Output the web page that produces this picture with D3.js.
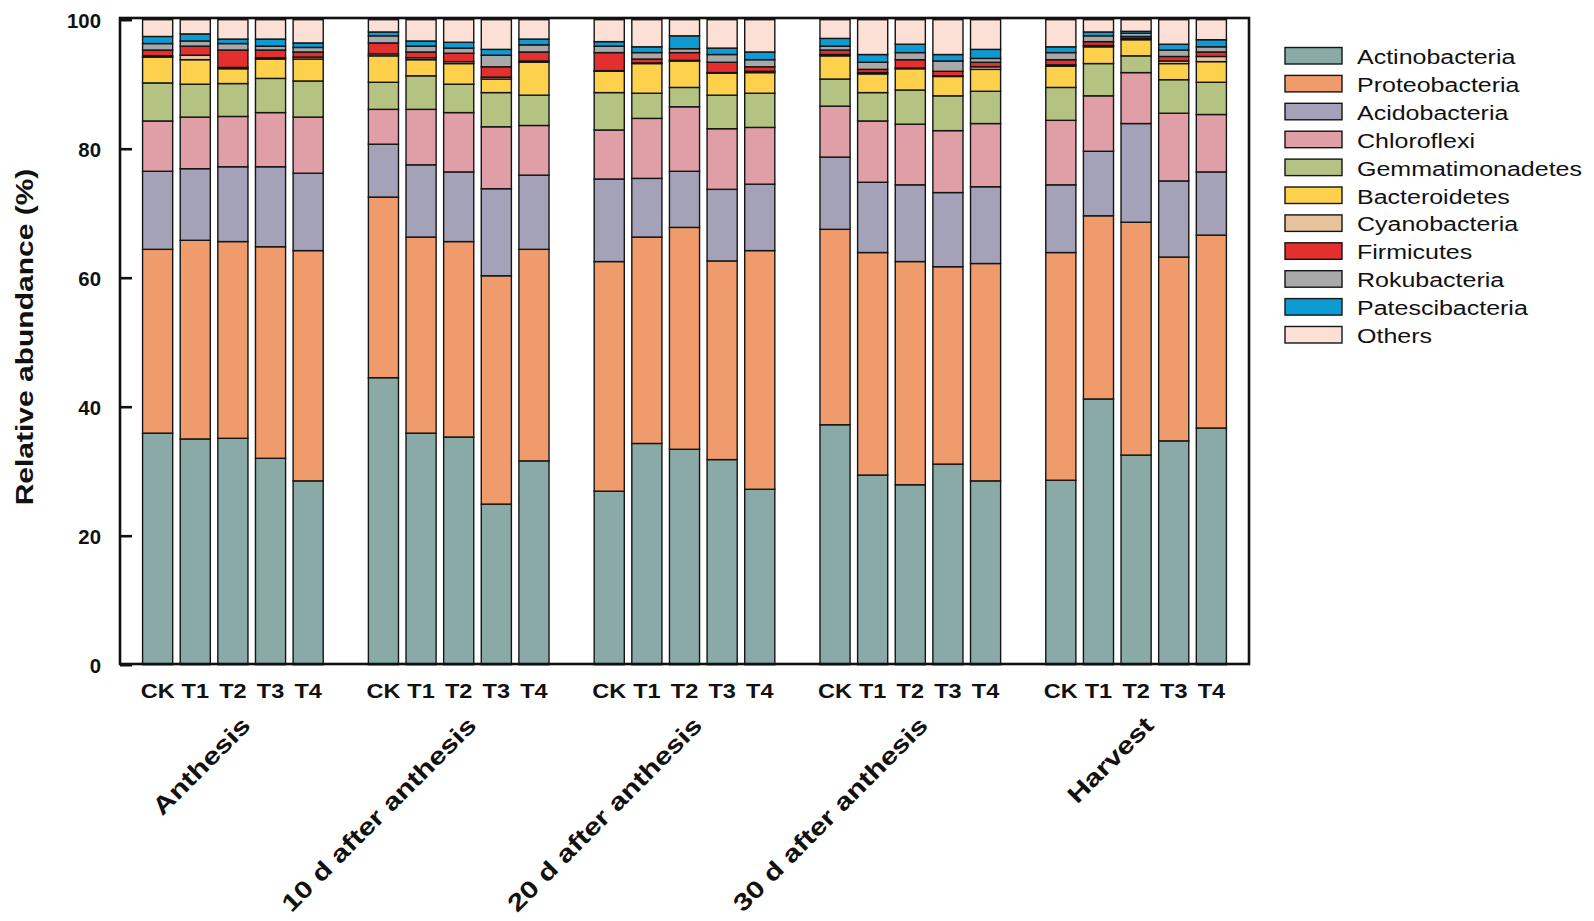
<!DOCTYPE html>
<html>
<head>
<meta charset="utf-8">
<script src="https://cdn.jsdelivr.net/npm/d3@7"></script>
<style>
  html, body { margin: 0; padding: 0; background: #fff; }
  svg { display: block; }
  text { font-family: "Liberation Sans", Arial, sans-serif; fill: #111; }
</style>
</head>
<body>
<svg id="chart" width="1594" height="921"></svg>
<script>
// ---------------- DATA ----------------
const stages = ["Anthesis", "10 d after anthesis", "20 d after anthesis", "30 d after anthesis", "Harvest"];
const treatments = ["CK", "T1", "T2", "T3", "T4"];
const phyla = ["Actinobacteria", "Proteobacteria", "Acidobacteria", "Chloroflexi", "Gemmatimonadetes",
               "Bacteroidetes", "Cyanobacteria", "Firmicutes", "Rokubacteria", "Patescibacteria", "Others"];
const yTicks = [0, 20, 40, 60, 80, 100];

// relative abundance (%) per bar, order: stage by stage, CK..T4
const actinobacteria   = [35.9, 35.0, 35.1, 32.0, 28.5,  44.5, 35.9, 35.3, 24.9, 31.6,  26.9, 34.3, 33.4, 31.8, 27.2,  37.2, 29.4, 27.9, 31.1, 28.5,  28.6, 41.2, 32.5, 34.7, 36.7];
const proteobacteria   = [28.5, 30.8, 30.5, 32.8, 35.7,  28.0, 30.4, 30.3, 35.4, 32.8,  35.6, 32.0, 34.4, 30.8, 37.0,  30.3, 34.5, 34.6, 30.6, 33.7,  35.3, 28.4, 36.1, 28.5, 29.9];
const acidobacteria    = [12.1, 11.1, 11.6, 12.4, 12.0,   8.2, 11.2, 10.8, 13.5, 11.5,  12.8,  9.1,  8.7, 11.1, 10.3,  11.2, 10.9, 11.9, 11.5, 11.9,  10.5, 10.0, 15.3, 11.8,  9.8];
const chloroflexi      = [ 7.8,  8.0,  7.8,  8.4,  8.7,   5.4,  8.6,  9.2,  9.6,  7.7,   7.6,  9.3, 10.0,  9.4,  8.8,   7.9,  9.5,  9.4,  9.6,  9.8,  10.0,  8.6,  7.9, 10.5,  8.9];
const gemmatimonadetes = [ 5.9,  5.1,  5.1,  5.3,  5.6,   4.2,  5.2,  4.4,  5.3,  4.7,   5.8,  3.9,  3.0,  5.2,  5.3,   4.2,  4.4,  5.3,  5.4,  5.0,   5.1,  5.0,  2.6,  5.2,  5.0];
const bacteroidetes    = [ 4.0,  3.8,  2.3,  3.0,  3.4,   4.1,  2.5,  3.2,  2.1,  5.1,   3.3,  4.6,  4.1,  3.4,  3.2,   3.6,  2.9,  3.3,  3.0,  3.4,   3.3,  2.6,  2.5,  2.5,  3.2];
const cyanobacteria    = [ 0.2,  0.7,  0.2,  0.2,  0.3,   0.3,  0.3,  0.3,  0.3,  0.2,   0.1,  0.1,  0.1,  0.1,  0.2,   0.2,  0.2,  0.1,  0.1,  0.4,   0.2,  0.2,  0.2,  0.4,  0.8];
const firmicutes       = [ 0.9,  1.4,  2.7,  1.2,  0.8,   1.7,  0.9,  1.3,  1.6,  1.4,   2.8,  0.6,  1.2,  1.6,  0.7,   0.7,  0.5,  1.3,  0.7,  0.7,   0.8,  0.6,  0.3,  0.7,  0.7];
const rokubacteria     = [ 1.0,  0.8,  1.0,  0.6,  0.7,   1.1,  0.9,  0.8,  1.8,  1.1,   1.0,  1.0,  0.6,  1.2,  1.1,   0.6,  1.1,  1.1,  1.6,  0.6,   1.1,  0.9,  0.5,  1.0,  0.8];
const patescibacteria  = [ 1.1,  1.1,  0.7,  1.1,  0.7,   0.6,  0.8,  0.9,  0.9,  0.9,   0.7,  0.9,  2.0,  1.0,  1.2,   1.2,  1.2,  1.3,  1.0,  1.4,   0.9,  0.6,  0.3,  0.9,  1.1];
const others           = [ 2.6,  2.2,  3.0,  3.0,  3.6,   1.9,  3.3,  3.5,  4.6,  3.0,   3.4,  4.2,  2.5,  4.4,  5.0,   2.9,  5.4,  3.8,  5.4,  4.6,   4.2,  1.9,  1.8,  3.8,  3.1];

const seriesValues = [actinobacteria, proteobacteria, acidobacteria, chloroflexi, gemmatimonadetes,
                      bacteroidetes, cyanobacteria, firmicutes, rokubacteria, patescibacteria, others];

// ---------------- STYLE / LAYOUT ----------------
const colors = ["#89aaa6", "#ef9b6b", "#a3a2b8", "#e09fa6", "#b4c381", "#fdd14c",
                "#e5c49d", "#e3302e", "#a9a9a9", "#0e9ad3", "#fde0d5"];
const plot = { left: 120, right: 1249, top: 18, bottom: 664 };
const FONT = '"Liberation Sans", Arial, sans-serif';

const svg = d3.select("#chart");

// build rows
const rows = [];
stages.forEach((s, gi) => {
  treatments.forEach((t, ti) => {
    const idx = gi * treatments.length + ti;
    const row = { key: s + "|" + t, stage: s, treat: t };
    phyla.forEach((p, pi) => row[p] = seriesValues[pi][idx]);
    rows.push(row);
  });
});

// x band domain with an empty slot between stage groups
const xDomain = [];
stages.forEach((s, gi) => {
  treatments.forEach(t => xDomain.push(s + "|" + t));
  if (gi < stages.length - 1) xDomain.push("gap" + gi);
});

const x = d3.scaleBand().domain(xDomain).range([plot.left, plot.right])
  .paddingInner(0.2).paddingOuter(0.6);
const y = d3.scaleLinear().domain([0, 100]).range([664.7, 19.7]);
const color = d3.scaleOrdinal().domain(phyla).range(colors);

const stacked = d3.stack().keys(phyla)(rows);

// bars
const gBars = svg.append("g");
gBars.selectAll("g.layer").data(stacked).join("g")
  .attr("class", "layer")
  .attr("fill", d => color(d.key))
  .selectAll("rect").data(d => d).join("rect")
  .attr("x", d => x(d.data.key))
  .attr("width", x.bandwidth())
  .attr("y", d => y(d[1]))
  .attr("height", d => Math.max(0, y(d[0]) - y(d[1])))
  .attr("stroke", "#151515")
  .attr("stroke-width", 1.4);

// frame
svg.append("rect")
  .attr("x", plot.left).attr("y", plot.top)
  .attr("width", plot.right - plot.left).attr("height", plot.bottom - plot.top)
  .attr("fill", "none").attr("stroke", "#111").attr("stroke-width", 2.6);

// y axis (ticks inward)
const yAxis = d3.axisLeft(y).tickValues(yTicks).tickSize(-12).tickPadding(0).tickFormat(d3.format("d"));
const gy = svg.append("g").attr("transform", `translate(${plot.left},0)`).call(yAxis);
gy.select(".domain").remove();
gy.selectAll(".tick line").attr("stroke", "#111").attr("stroke-width", 2.6);
gy.selectAll(".tick text").remove();
gy.selectAll(".tick").append("g")
  .attr("transform", "translate(-19,0) scale(0.97,1)")
  .append("text")
  .attr("text-anchor", "end")
  .attr("dy", "0.35em")
  .style("font-family", FONT)
  .style("font-size", "21px")
  .style("font-weight", "bold")
  .attr("fill", "#111")
  .text(d => d);

// x tick labels (treatments)
const gx = svg.append("g");
gx.selectAll("g").data(rows).join("g")
  .attr("transform", d => `translate(${x(d.key) + x.bandwidth() / 2},698) scale(1.12,1)`)
  .append("text")
  .attr("text-anchor", "middle")
  .style("font-family", FONT)
  .style("font-size", "21px")
  .style("font-weight", "bold")
  .text(d => d.treat);

// stage labels rotated
const gs = svg.append("g");
gs.selectAll("g").data(stages).join("g")
  .attr("transform", s => {
    const cx = x(s + "|T2") + x.bandwidth() / 2;
    return `translate(${cx + 19},727) rotate(-45) scale(1.25,1)`;
  })
  .append("text")
  .attr("text-anchor", "end")
  .style("font-family", FONT)
  .style("font-size", "24px")
  .style("font-weight", "bold")
  .text(s => s);

// y title
svg.append("g")
  .attr("transform", "translate(33,337) rotate(-90) scale(1.25,1)")
  .append("text")
  .attr("text-anchor", "middle")
  .style("font-family", FONT)
  .style("font-size", "24px")
  .style("font-weight", "bold")
  .text("Relative abundance (%)");

// legend
const legend = svg.append("g");
const li = legend.selectAll("g").data(phyla).join("g")
  .attr("transform", (d, i) => `translate(1285,${47.5 + i * 27.9})`);
li.append("rect")
  .attr("width", 57).attr("height", 16.5)
  .attr("fill", d => color(d))
  .attr("stroke", "#151515").attr("stroke-width", 1.4);
li.append("g")
  .attr("transform", "translate(72,16.5) scale(1.25,1)")
  .append("text")
  .style("font-family", FONT)
  .style("font-size", "20px")
  .text(d => d);
</script>
</body>
</html>
